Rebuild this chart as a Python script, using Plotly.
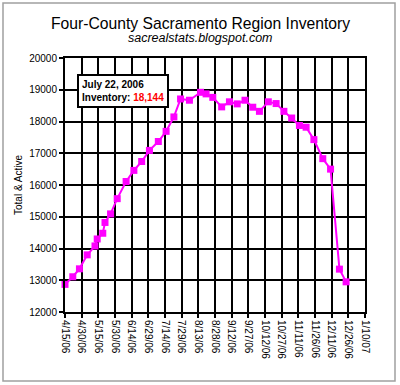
import plotly.graph_objects as go
import pandas as pd

dates = ["2006-04-15", "2006-04-22", "2006-04-28", "2006-05-05", "2006-05-12",
         "2006-05-14", "2006-05-19", "2006-05-21", "2006-05-26", "2006-06-01",
         "2006-06-09", "2006-06-16", "2006-06-23", "2006-06-30", "2006-07-08",
         "2006-07-15", "2006-07-22", "2006-07-28", "2006-08-05", "2006-08-15",
         "2006-08-20", "2006-08-26", "2006-09-03", "2006-09-10", "2006-09-17",
         "2006-09-24", "2006-10-01", "2006-10-07", "2006-10-15", "2006-10-22",
         "2006-10-29", "2006-11-05", "2006-11-12", "2006-11-18", "2006-11-25",
         "2006-12-03", "2006-12-10", "2006-12-18", "2006-12-24"]
inventory = [12870, 13110, 13360, 13800, 14080,
             14300, 14480, 14820, 15090, 15570,
             16110, 16460, 16740, 17090, 17370,
             17690, 18144, 18710, 18670, 18920,
             18870, 18760, 18460, 18620, 18555,
             18670, 18450, 18320, 18620, 18565,
             18320, 18110, 17875, 17820, 17430,
             16830, 16500, 13350, 12950]

tick_dates = pd.date_range("2006-04-15", "2007-01-10", freq="15D")
tick_text = [f"{d.month}/{d.day}/{d:%y}" for d in tick_dates]
y_ticks = list(range(12000, 20001, 1000))

FONT = "Arial, Liberation Sans, sans-serif"

fig = go.Figure()
fig.add_trace(go.Scatter(
    x=dates, y=inventory, mode="lines+markers",
    line=dict(color="#FF00FF", width=2),
    marker=dict(symbol="square", size=7, color="#FF00FF"),
    cliponaxis=False, showlegend=False, hoverinfo="skip",
))

W, H = 400, 385
L, R, T, B = 65, 35, 58, 73
pw, ph = W - L - R, H - T - B

def px(x):
    return (x - L) / pw

def py(y):
    return (H - B - y) / ph

fig.update_layout(
    width=W, height=H,
    margin=dict(l=L, r=R, t=T, b=B),
    paper_bgcolor="white", plot_bgcolor="white",
    font=dict(family=FONT, size=10, color="black"),
    xaxis=dict(
        type="date", range=[tick_dates[0], tick_dates[-1]],
        tickvals=list(tick_dates), ticktext=tick_text, tickangle=90,
        showgrid=True, gridcolor="black", gridwidth=2,
        showline=True, linecolor="black", linewidth=2, mirror=True,
        ticks="outside", ticklen=4, tickwidth=2, tickcolor="black",
        tickfont=dict(size=10), zeroline=False,
    ),
    yaxis=dict(
        range=[12000, 20000], tickvals=y_ticks,
        ticktext=[str(v) for v in y_ticks],
        showgrid=True, gridcolor="black", gridwidth=2,
        showline=True, linecolor="black", linewidth=2, mirror=True,
        ticks="outside", ticklen=4, tickwidth=2, tickcolor="black",
        tickfont=dict(size=10), zeroline=False,
        title=dict(text="Total & Active", font=dict(size=10), standoff=5),
    ),
    shapes=[dict(type="rect", xref="paper", yref="paper",
                 x0=px(3), x1=px(395), y0=py(381), y1=py(3),
                 line=dict(color="#A0A0A0", width=1.5), layer="below")],
    annotations=[
        dict(text="Four-County Sacramento Region Inventory", xref="paper", yref="paper",
             x=px(200), y=py(23), xanchor="center", yanchor="middle",
             showarrow=False, font=dict(size=15.7)),
        dict(text="<i>sacrealstats.blogspot.com</i>", xref="paper", yref="paper",
             x=px(200), y=py(38), xanchor="center", yanchor="middle",
             showarrow=False, font=dict(size=12.5)),
        dict(text="<b>July 22, 2006</b><br><b>Inventory: <span style='color:#FF0000'>18,144</span></b>",
             xref="paper", yref="paper", x=px(77), y=py(74),
             xanchor="left", yanchor="top", align="left", showarrow=False,
             font=dict(size=10), bgcolor="white", bordercolor="black",
             borderwidth=2, borderpad=3),
    ],
)

fig.write_html("out.html", config={"displayModeBar": False},
               post_script="document.body.style.margin='0';")
